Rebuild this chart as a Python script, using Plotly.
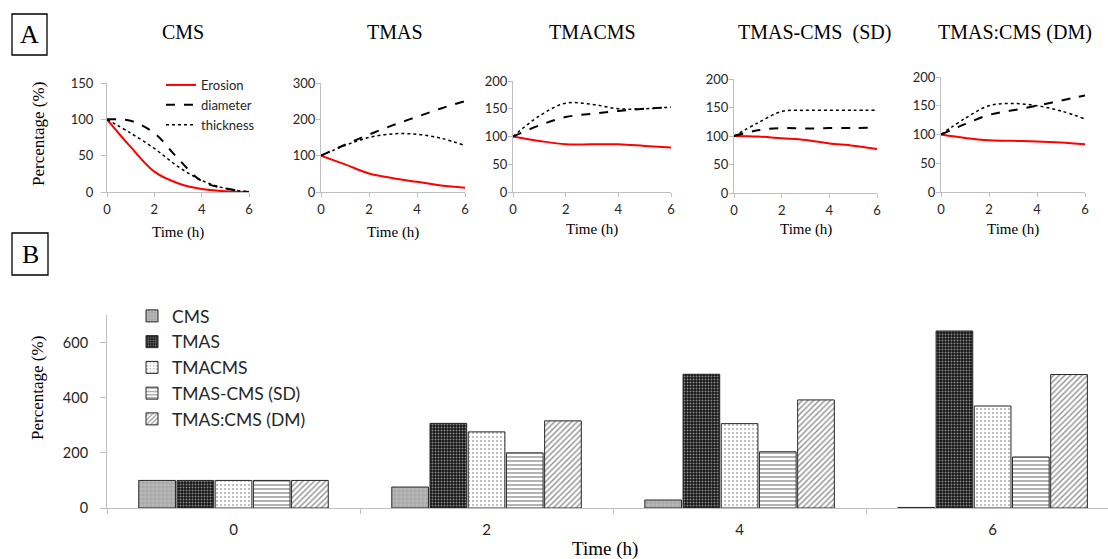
import plotly.graph_objects as go

# ---------------- data ----------------
hours = [0, 1, 2, 3, 4, 5, 6]

cms_erosion = [100, 62, 28, 12, 4, 1, 0]
cms_diameter = [100, 98, 81, 46, 15, 5, 0]
cms_thickness = [100, 81, 60, 35, 16, 5, 0]

tmas_erosion = [100, 76, 51, 38, 28, 18, 12]
tmas_diameter = [100, 130, 158, 184, 207, 230, 250]
tmas_thickness = [100, 128, 150, 160, 159, 148, 128]

tmacms_erosion = [100, 92, 86, 86, 86, 83, 80]
tmacms_diameter = [100, 120, 135, 141, 146, 150, 153]
tmacms_thickness = [100, 137, 160, 158, 150, 150, 153]

sd_erosion = [100, 99, 96, 93, 87, 83, 77]
sd_diameter = [100, 110, 114, 113, 114, 114, 115]
sd_thickness = [100, 123, 143, 145, 145, 145, 145]

dm_erosion = [100, 94, 90, 89, 88, 86, 83]
dm_diameter = [100, 118, 134, 142, 150, 159, 168]
dm_thickness = [100, 128, 150, 154, 150, 141, 127]

panel_titles = ["CMS", "TMAS", "TMACMS", "TMAS-CMS  (SD)", "TMAS:CMS (DM)"]
panel_ymax = [150, 300, 200, 200, 200]
panel_dtick = [50, 100, 50, 50, 50]

bar_times = ["0", "2", "4", "6"]
bar_cms = [100, 76, 29, 2]
bar_tmas = [100, 307, 485, 642]
bar_tmacms = [100, 276, 306, 370]
bar_sd = [100, 200, 204, 185]
bar_dm = [100, 316, 392, 484]
bar_names = ["CMS", "TMAS", "TMACMS", "TMAS-CMS (SD)", "TMAS:CMS (DM)"]

# ---------------- layout helpers ----------------
W, H = 1108, 559
def px(x):
    return x / W
def py(y):
    return 1 - y / H

SERIF = "Liberation Serif, Times New Roman, serif"
SANS = "Lato, Carlito, Calibri, sans-serif"
AXC = "#bfbfbf"
TXT = "#262626"

fig = go.Figure()

series = [
    (cms_erosion, cms_diameter, cms_thickness),
    (tmas_erosion, tmas_diameter, tmas_thickness),
    (tmacms_erosion, tmacms_diameter, tmacms_thickness),
    (sd_erosion, sd_diameter, sd_thickness),
    (dm_erosion, dm_diameter, dm_thickness),
]
boxes = [(107, 249, 192, 83), (321, 465, 192, 83), (513, 671, 192, 81),
         (734, 877, 193, 79), (941, 1085, 192, 77)]
ylab_standoff = [5, -2, -2, -2, -2]

for i, (ero, dia, thk) in enumerate(series):
    n = "" if i == 0 else str(i + 1)
    xa, ya = "x" + n, "y" + n
    show = i == 0
    fig.add_trace(go.Scatter(x=hours, y=ero, xaxis=xa, yaxis=ya, mode="lines",
                             line=dict(color="#ff0000", width=2, shape="spline"),
                             name="Erosion", showlegend=show, legend="legend"))
    fig.add_trace(go.Scatter(x=hours, y=dia, xaxis=xa, yaxis=ya, mode="lines",
                             line=dict(color="#000000", width=2, dash="dash", shape="spline"),
                             name="diameter", showlegend=show, legend="legend"))
    fig.add_trace(go.Scatter(x=hours, y=thk, xaxis=xa, yaxis=ya, mode="lines",
                             line=dict(color="#000000", width=1.5, dash="dot", shape="spline"),
                             name="thickness", showlegend=show, legend="legend"))
    x0, x1, yb, yt = boxes[i]
    fig.update_layout(**{
        "xaxis" + n: dict(domain=[px(x0), px(x1)], range=[0, 6], tickvals=[0, 2, 4, 6],
                          showline=True, linecolor=AXC, linewidth=1, ticks="outside",
                          ticklen=4, tickcolor=AXC, showgrid=False, zeroline=False,
                          tickfont=dict(family=SANS, size=13, color=TXT), anchor=ya,
                          fixedrange=True, automargin=False, ticklabelstandoff=1),
        "yaxis" + n: dict(domain=[py(yb), py(yt)], range=[0, panel_ymax[i]],
                          dtick=panel_dtick[i], showline=True, linecolor=AXC, linewidth=1,
                          ticks="outside", ticklen=5 if i == 0 else 4, tickcolor=AXC,
                          showgrid=False, zeroline=False,
                          tickfont=dict(family=SANS, size=13, color=TXT),
                          anchor=xa, fixedrange=True, automargin=False,
                          ticklabelstandoff=ylab_standoff[i]),
    })

# ---------------- panel B bars ----------------
patterns = [
    dict(shape="+", bgcolor="#a8a8a8", fgcolor="#e2e2e2", size=4, solidity=0.3),
    dict(shape=".", bgcolor="#151515", fgcolor="#ffffff", size=3, solidity=0.35),
    dict(shape=".", bgcolor="#ffffff", fgcolor="#555555", size=4, solidity=0.2),
    dict(shape="-", bgcolor="#ffffff", fgcolor="#222222", size=4, solidity=0.35),
    dict(shape="/", bgcolor="#ffffff", fgcolor="#222222", size=4, solidity=0.35),
]
bar_vals = [bar_cms, bar_tmas, bar_tmacms, bar_sd, bar_dm]
for name, vals, pat in zip(bar_names, bar_vals, patterns):
    fig.add_trace(go.Bar(x=bar_times, y=vals, name=name, xaxis="x6", yaxis="y6",
                         marker=dict(color="#ffffff", pattern=pat,
                                     line=dict(color="#262626", width=1)),
                         legend="legend2"))

fig.update_layout(
    xaxis6=dict(domain=[px(107), 1.0], range=[-0.5, 3.456], type="category",
                showline=True, linecolor=AXC, linewidth=1, ticks="outside",
                tickson="boundaries", ticklen=5, tickcolor=AXC, showgrid=False,
                tickfont=dict(family=SANS, size=15, color=TXT), anchor="y6",
                fixedrange=True, automargin=False, ticklabelstandoff=8),
    yaxis6=dict(domain=[py(508), py(315)], range=[0, 700], tickvals=[0, 200, 400, 600],
                showline=True, linecolor=AXC, linewidth=1, ticks="outside", ticklen=6,
                tickcolor=AXC, showgrid=False, zeroline=False,
                tickfont=dict(family=SANS, size=14.5, color=TXT), anchor="x6",
                fixedrange=True, automargin=False, ticklabelstandoff=9),
    barmode="group", bargap=0.245, bargroupgap=0.04,
)

# ---------------- legends ----------------
fig.update_layout(
    legend=dict(x=px(161), y=py(70), xanchor="left", yanchor="top",
                font=dict(family=SANS, size=13, color=TXT), bgcolor="rgba(0,0,0,0)",
                tracegroupgap=0, itemwidth=30),
    legend2=dict(x=px(132), y=py(298), xanchor="left", yanchor="top",
                 font=dict(family=SANS, size=17.5, color=TXT), bgcolor="rgba(0,0,0,0)",
                 tracegroupgap=0, itemwidth=30),
)

# ---------------- annotations / shapes ----------------
ann = []
title_x = [183, 395, 592, 814, 1015]
for t, xc in zip(panel_titles, title_x):
    ann.append(dict(text=t, x=px(xc), y=py(32), xref="paper", yref="paper",
                    showarrow=False, font=dict(family=SERIF, size=20, color="#000"),
                    xanchor="center", yanchor="middle"))
time_y = [232, 232, 229, 229, 229]
for (x0, x1, yb, yt), ty in zip(boxes, time_y):
    ann.append(dict(text="Time (h)", x=px((x0 + x1) / 2), y=py(ty), xref="paper",
                    yref="paper", showarrow=False,
                    font=dict(family=SERIF, size=15, color="#000"),
                    xanchor="center", yanchor="middle"))
ann.append(dict(text="Percentage (%)", x=px(38), y=py(134), xref="paper", yref="paper",
                showarrow=False, textangle=-90, font=dict(family=SERIF, size=17, color="#000"),
                xanchor="center", yanchor="middle"))
ann.append(dict(text="Percentage (%)", x=px(37), y=py(388), xref="paper", yref="paper",
                showarrow=False, textangle=-90, font=dict(family=SERIF, size=17, color="#000"),
                xanchor="center", yanchor="middle"))
ann.append(dict(text="Time (h)", x=px(605), y=py(549), xref="paper", yref="paper",
                showarrow=False, font=dict(family=SERIF, size=19, color="#000"),
                xanchor="center", yanchor="middle"))
ann.append(dict(text="A", x=px(29.5), y=py(35), xref="paper", yref="paper",
                showarrow=False, font=dict(family=SERIF, size=26, color="#000"),
                xanchor="center", yanchor="middle"))
ann.append(dict(text="B", x=px(30), y=py(254.5), xref="paper", yref="paper",
                showarrow=False, font=dict(family=SERIF, size=26, color="#000"),
                xanchor="center", yanchor="middle"))

shapes = [
    dict(type="rect", xref="paper", yref="paper", x0=px(12), x1=px(47), y0=py(55), y1=py(14),
         line=dict(color="#000", width=1.3)),
    dict(type="rect", xref="paper", yref="paper", x0=px(12), x1=px(48), y0=py(275), y1=py(233),
         line=dict(color="#000", width=1.3)),
]

fig.update_layout(
    width=W, height=H, margin=dict(l=0, r=0, t=0, b=0, autoexpand=False),
    paper_bgcolor="#ffffff", plot_bgcolor="#ffffff",
    annotations=ann, shapes=shapes, showlegend=True,
)

fig.write_html("out.html")
